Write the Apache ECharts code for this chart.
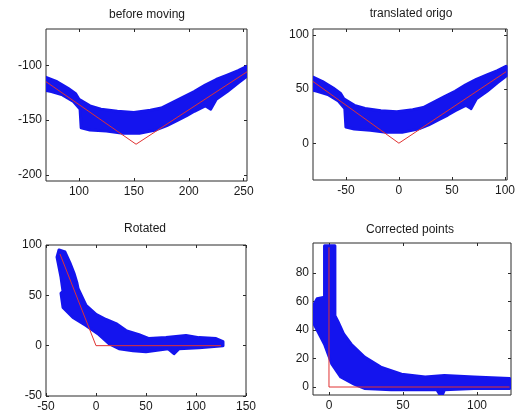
<!DOCTYPE html>
<html>
<head>
<meta charset="utf-8">
<script src="https://cdn.jsdelivr.net/npm/echarts@6/dist/echarts.min.js"></script>
<style>
html, body { margin: 0; padding: 0; background: #fff; }
#chart { width: 518px; height: 417px; }
</style>
</head>
<body>
<div id="chart"></div>
<script>
const titles = ['before moving', 'translated origo', 'Rotated', 'Corrected points']

// outline of the thick blue point cloud, one per panel
const band1 = [[70,-111],[80,-115],[90,-121],[97,-126],[100,-131],[110,-137],[120,-140],[135,-142],[150,-143],[165,-141],[175,-139],[185,-134],[195,-129],[205,-124],[215,-118],[225,-113],[235,-109],[245,-105],[253,-101],
    [253,-110],[245,-116],[235,-124],[225,-131],[220,-140],[215,-137],[205,-142],[198,-146],[190,-150],[180,-155],[170,-159],[155,-162],[140,-162],[125,-160],[110,-159],[102,-157],[101,-140],[95,-133],[85,-127],[75,-124],[70,-123]]
const band2 = [[-81,61],[-72,57],[-62,51],[-55,46],[-52,41],[-42,35],[-32,32],[-17,30],[-2,29],[13,31],[23,33],[33,38],[43,43],[53,48],[63,54],[73,59],[83,63],[93,67],[101,71],
    [101,62],[93,56],[83,48],[73,41],[68,32],[63,35],[53,30],[46,26],[38,22],[28,17],[18,13],[3,10],[-12,10],[-27,12],[-42,13],[-50,15],[-51,32],[-57,39],[-67,45],[-77,48],[-81,49]]
const band3 = [[-37,95],[-31,93],[-26,82],[-22,72],[-19,62],[-18,57],[-10,40],[0,31],[10,26],[20,22],[30,15],[43,11],[53,7],[70,8],[90,10],[103,8],[120,7],[127,4],
    [127,0],[103,-2],[83,-3],[78,-8],[72,-3],[50,-6],[37,-5],[23,-3],[13,2],[3,11],[-10,20],[-23,28],[-33,38],[-35,52],[-33,54],[-35,68],[-39,88]]
const band4 = [[-3,99],[4,99],[4,63],[4,50],[6,46],[10,37],[15,30],[24,21],[35,14],[49,9],[65,7],[78,8],[98,7],[122,6],
    [122,-1],[98,-1],[78,-2],[76,-7],[73,-2],[42,-2],[24,-1],[17,2],[8,7],[2,16],[-3,30],[-10,44],[-11,56],[-8,62],[-3,63]]

// red reference lines
const red1 = [[70,-115],[152,-172],[253,-106]]
const red2 = [[-81,57],[0,0],[101,66]]
const red3 = [[-36,91],[0,0],[125,0]]
const red4 = [[0,98],[0,0],[122,0]]

// axis limits and tick labels
const xLim = [[70,253],[-81,102],[-50,150],[-10.8,123]]
const yLim = [[-205.5,-67],[-34,105.5],[-50,100],[-5.6,101]]
const xTicks = [[100,150,200,250],[-50,0,50,100],[-50,0,50,100,150],[0,50,100]]
const yTicks = [[-200,-150,-100],[0,50,100],[-50,0,50,100],[0,20,40,60,80]]

const bands = [band1, band2, band3, band4]
const reds = [red1, red2, red3, red4]

const chart = echarts.init(document.getElementById('chart'))

const grids = [
    {left: 46, top: 29, width: 201, height: 152},
    {left: 313, top: 29, width: 197, height: 151},
    {left: 46, top: 245, width: 200, height: 151},
    {left: 313, top: 243, width: 198, height: 152},
]
const titlePos = [[147, 9], [411, 8], [145, 223], [410, 224]]

const BLUE = '#1414ee'
const txt = {color: '#1a1a1a', fontSize: 12, fontFamily: 'Liberation Sans'}

const xAxis = []
const yAxis = []
const series = []

grids.forEach((g, i) => {
    g.show = true
    g.borderColor = '#2a2a2a'
    g.borderWidth = 1
    g.backgroundColor = '#fff'
    ;['bottom', 'top'].forEach((pos, k) => {
        xAxis.push({
            type: 'value', gridIndex: i, position: pos,
            min: xLim[i][0], max: xLim[i][1],
            axisLine: {show: false, onZero: false},
            splitLine: {show: false},
            axisTick: {show: true, inside: true, length: 3, customValues: xTicks[i], lineStyle: {color: '#2a2a2a'}},
            axisLabel: {show: k === 0, customValues: xTicks[i], margin: 5, ...txt},
        })
    })
    ;['left', 'right'].forEach((pos, k) => {
        yAxis.push({
            type: 'value', gridIndex: i, position: pos,
            min: yLim[i][0], max: yLim[i][1],
            axisLine: {show: false, onZero: false},
            splitLine: {show: false},
            axisTick: {show: true, inside: true, length: 3, customValues: yTicks[i], lineStyle: {color: '#2a2a2a'}},
            axisLabel: {show: k === 0, customValues: yTicks[i], margin: 4, ...txt},
        })
    })
    const band = bands[i]
    series.push({
        type: 'custom',
        xAxisIndex: i * 2,
        yAxisIndex: i * 2,
        clip: true,
        z: 2,
        data: [band[0]],
        renderItem(params, api) {
            return {
                type: 'polygon',
                shape: {points: band.map(p => api.coord(p))},
                style: {fill: BLUE, stroke: BLUE, lineWidth: 3, lineJoin: 'round'},
            }
        },
    })
    series.push({
        type: 'line',
        xAxisIndex: i * 2,
        yAxisIndex: i * 2,
        z: 3,
        symbol: 'none',
        data: reds[i],
        lineStyle: {color: '#e03232', width: 1},
    })
})

chart.setOption({
    animation: false,
    backgroundColor: '#fff',
    title: titles.map((t, i) => ({
        text: t,
        left: titlePos[i][0],
        top: titlePos[i][1],
        textAlign: 'center',
        padding: 0,
        textStyle: {...txt, fontWeight: 'normal'},
    })),
    grid: grids,
    xAxis,
    yAxis,
    series,
})
</script>
</body>
</html>
